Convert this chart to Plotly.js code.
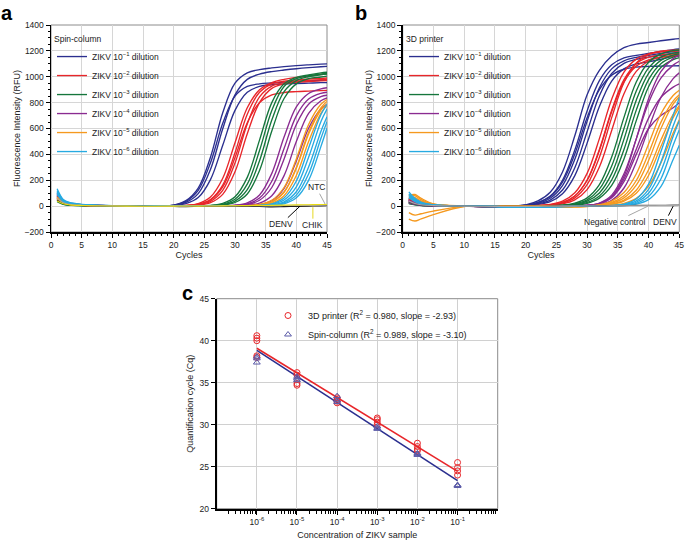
<!DOCTYPE html>
<html><head><meta charset="utf-8">
<script src="https://cdn.plot.ly/plotly-3.0.1.min.js"></script>
<style>html,body{margin:0;padding:0;background:#fff}#chart{width:685px;height:543px}</style>
</head><body><div id="chart"></div>
<script>
// ---------- DATA ----------
const cycles = [1,2,3,5,10,15,20,22,24,26,28,30,32,34,36,38,40,42,44,45];
const dilutionNames = ['ZIKV 10<sup>−1</sup> dilution','ZIKV 10<sup>−2</sup> dilution','ZIKV 10<sup>−3</sup> dilution','ZIKV 10<sup>−4</sup> dilution','ZIKV 10<sup>−5</sup> dilution','ZIKV 10<sup>−6</sup> dilution'];

// Panel a: spin-column (RFU per replicate at the cycles above)
const spinD1 = [
 [95,42,24,12,3,0,8,42,139,378,722,950,1030,1055,1068,1078,1086,1092,1097,1100],
 [80,36,20,10,2,-1,6,29,97,283,598,860,980,1020,1040,1052,1062,1070,1077,1080],
 [70,30,17,9,2,-2,8,37,122,335,640,850,925,945,952,958,963,968,972,975],
 [60,27,15,8,1,0,4,19,66,205,470,740,880,925,938,944,948,951,954,955]];
const spinD2 = [
 [85,38,20,10,3,-1,2,6,20,70,215,490,760,900,955,980,995,1007,1018,1025],
 [75,32,18,9,2,-2,1,4,15,51,163,412,710,880,945,965,975,982,988,990],
 [65,30,16,8,2,-1,1,3,10,37,122,333,635,845,928,955,965,972,978,980],
 [55,25,14,7,1,-2,0,2,8,27,91,265,560,800,910,945,957,963,968,970],
 [50,22,12,6,1,-1,1,4,13,46,148,375,645,800,860,878,885,889,893,895]];
const spinD3 = [
 [50,20,10,5,0,-2,0,1,2,6,21,72,222,510,800,945,995,1015,1030,1035],
 [45,18,10,5,1,-1,0,0,1,4,15,53,170,430,740,925,985,1008,1020,1025],
 [40,16,9,4,0,-2,0,0,1,3,11,39,128,350,665,885,970,1000,1015,1020],
 [35,14,8,4,0,-1,0,0,0,2,8,28,94,275,580,832,945,985,998,1005]];
const spinD4 = [
 [100,42,22,11,3,0,0,0,1,1,2,7,26,86,253,534,767,871,906,915],
 [85,36,19,10,2,-1,0,0,0,1,1,5,18,62,192,445,698,828,872,880],
 [75,32,17,9,2,-2,0,0,0,0,1,3,13,45,144,365,631,788,846,857],
 [65,28,15,8,1,-1,0,0,0,0,1,2,7,24,81,236,499,717,814,836],
 [55,24,13,7,1,0,0,0,0,0,0,1,3,12,43,138,349,602,752,786]];
const spinD5 = [
 [70,30,16,8,2,0,0,0,0,0,0,1,3,13,45,144,365,631,788,824],
 [62,27,15,8,2,-1,0,0,0,0,0,0,3,9,33,110,299,571,760,809],
 [58,25,14,7,1,-1,0,0,0,0,0,0,3,9,32,107,292,558,743,790],
 [52,23,13,7,1,0,0,0,0,0,0,0,2,7,24,81,237,499,717,779]];
const spinD6 = [
 [135,52,28,14,4,0,0,0,0,0,0,0,1,5,18,63,194,450,706,787],
 [120,46,25,12,3,-1,0,0,0,0,0,0,0,4,14,47,149,378,653,751],
 [110,42,23,11,3,-1,0,0,0,0,0,0,0,3,10,33,111,303,577,690],
 [100,40,21,10,2,0,0,0,0,0,0,0,0,2,7,25,85,248,522,653],
 [90,36,19,9,2,0,0,0,0,0,0,0,0,1,5,18,64,199,460,604]];
const spinNTC  = [60,26,14,7,2,-1,0,0,1,1,2,2,3,3,4,5,6,7,8,9];
const spinDENV = [45,20,11,5,1,-2,-3,-4,-3,-2,-3,-2,-2,-3,-6,-4,-2,0,2,3];
const spinCHIK = [40,18,10,5,1,-1,0,1,0,1,2,3,4,5,6,8,10,11,12,12];

// Panel b: 3D printer
const printerD1 = [
 [60,30,15,6,0,-2,10,40,107,264,544,860,1050,1160,1225,1252,1265,1278,1290,1295],
 [50,26,13,5,0,-3,8,29,78,200,434,736,970,1092,1145,1165,1180,1195,1210,1215],
 [45,24,12,5,0,-2,7,27,73,186,403,683,900,1012,1058,1075,1080,1082,1084,1085],
 [40,22,11,4,0,-3,6,22,61,159,362,655,915,1061,1123,1150,1165,1180,1195,1200],
 [55,28,14,6,1,-2,4,17,47,125,297,575,853,1025,1103,1135,1152,1165,1182,1190],
 [35,20,10,4,0,-3,3,13,35,96,236,487,770,967,1061,1099,1115,1135,1160,1170]];
const printerD2 = [
 [65,34,17,7,1,-2,2,5,14,38,103,253,522,826,1036,1136,1177,1192,1197,1200],
 [55,30,15,6,1,-3,1,4,10,29,79,202,438,742,978,1101,1151,1169,1176,1180],
 [50,27,14,6,0,-2,1,3,10,28,78,198,430,730,962,1082,1131,1150,1157,1160],
 [45,25,12,5,0,-3,1,3,8,23,64,166,378,684,955,1107,1171,1197,1205,1210],
 [40,22,11,5,0,-2,1,2,6,17,48,128,302,585,868,1042,1122,1152,1164,1168]];
const printerD3 = [
 [30,18,9,4,0,-3,0,1,3,8,23,64,166,379,686,959,1112,1176,1202,1207],
 [28,16,8,4,0,-2,0,1,2,6,18,49,131,310,600,890,1069,1151,1182,1189],
 [25,14,7,3,0,-3,0,0,2,5,13,38,102,251,518,819,1027,1127,1167,1177],
 [22,12,6,3,0,-2,0,0,1,4,10,29,79,202,438,742,978,1101,1151,1162],
 [20,10,5,2,0,-3,0,0,1,3,8,22,62,160,365,661,923,1071,1133,1148]];
const printerD4 = [
 [45,24,12,5,0,-2,0,0,0,1,2,6,22,75,230,520,830,1040,1140,1165],
 [40,22,11,5,0,-3,0,0,0,0,2,6,24,85,250,520,800,990,1090,1120],
 [35,20,10,4,0,-2,0,0,0,0,1,5,20,70,210,440,680,840,920,945],
 [30,17,9,4,0,-3,0,0,0,0,1,5,18,65,190,400,600,700,760,800],
 [25,14,7,3,0,-2,0,0,0,0,1,3,12,45,140,340,600,840,985,1030]];
const printerD5 = [
 [-50,-70,-59,-38,-2,2,-5,-8,-10,-10,-8,-4,10,39,105,248,480,712,855,896],
 [-100,-115,-99,-66,-3,3,-3,-5,-8,-8,-6,-2,8,28,80,198,409,647,811,860],
 [85,90,60,18,2,0,2,3,3,3,3,4,8,23,64,162,352,598,788,846],
 [75,80,50,15,1,-1,1,2,2,2,2,3,6,17,47,123,281,509,710,777],
 [60,55,35,12,1,0,1,1,1,1,1,2,5,13,38,100,237,460,683,763],
 [70,65,40,14,2,1,2,2,2,2,2,2,3,8,22,60,154,334,566,668]];
const printerD6 = [
 [110,60,30,10,1,-2,-8,-6,-4,-2,0,1,2,5,16,55,170,420,700,840],
 [95,50,25,9,1,-3,-10,-8,-6,-3,-1,0,1,4,12,40,130,340,620,740],
 [85,45,22,8,0,-2,-9,-8,-5,-3,-1,0,1,3,9,30,100,270,540,660],
 [75,40,20,7,0,-3,-10,-8,-6,-3,-1,0,0,2,6,22,75,210,470,590],
 [65,35,17,6,0,-2,-8,-7,-5,-2,-1,0,0,2,5,15,50,150,360,470]];
const printerNeg  = [40,20,10,4,0,-2,-3,-2,-1,0,0,1,1,2,2,3,3,4,4,5];
const printerDENV = [30,16,8,3,0,-2,-2,-1,0,0,1,1,2,3,4,6,7,7,8,8];

// Panel c: Cq vs concentration
const concentrations = [1e-6,1e-5,1e-4,1e-3,1e-2,1e-1];
const concTickText = ['10<sup>-6</sup>','10<sup>-5</sup>','10<sup>-4</sup>','10<sup>-3</sup>','10<sup>-2</sup>','10<sup>-1</sup>'];
const cqPrinter = [[40.6,40.3,40.0,38.2,38.0],[36.2,35.9,34.9,34.7],[33.2,33.0,32.8,32.6],[30.8,30.6,30.3,30.0],[27.8,27.4,27.1,26.9],[25.5,24.9,24.5,24.0]];
const cqSpin    = [[38.1,37.9,37.4],[35.7,35.5,35.3],[33.4,32.9,32.7],[29.8,29.6,29.5],[26.6,26.5,26.4],[22.8,22.8,22.7]];
const fitX = [1e-6, 1e-1];
const fitPrinter = [39.1, 24.45];
const fitSpin = [38.85, 23.35];
const printerLabel = '3D printer (R<sup>2</sup> = 0.980, slope = -2.93)';
const spinLabel = 'Spin-column (R<sup>2</sup> = 0.989, slope = -3.10)';

// ---------- STYLE ----------
const W = 685, H = 543;
const FONT = 'Liberation Sans, Arial, Helvetica, sans-serif';
const dilColors = ['#2b2f8f','#e8262a','#15763c','#8a2b91','#f5991f','#27aae1'];
const px = v => v / W, py = v => 1 - v / H;

const traces = [];
function addCurves(groups, xa, ya, leg) {
  groups.forEach((reps, gi) => {
    reps.forEach((ys, ri) => {
      traces.push({type:'scatter', mode:'lines', x: cycles, y: ys, xaxis: xa, yaxis: ya,
        line:{color: dilColors[gi], width: 1.35, shape:'spline', smoothing: 1},
        name: dilutionNames[gi], showlegend: ri === 0, legend: leg, hoverinfo:'skip'});
    });
  });
}
function addControl(ys, color, xa, ya) {
  traces.push({type:'scatter', mode:'lines', x: cycles, y: ys, xaxis: xa, yaxis: ya,
    line:{color: color, width: 1.1, shape:'spline'}, showlegend:false, hoverinfo:'skip'});
}
addCurves([spinD1,spinD2,spinD3,spinD4,spinD5,spinD6], 'x', 'y', 'legend');
addControl(spinDENV, '#231f20', 'x', 'y');
addControl(spinNTC, '#a6a6a6', 'x', 'y');
addControl(spinCHIK, '#eadc12', 'x', 'y');
addCurves([printerD1,printerD2,printerD3,printerD4,printerD5,printerD6], 'x2', 'y2', 'legend2');
addControl(printerDENV, '#4d4d4d', 'x2', 'y2');
addControl(printerNeg, '#a6a6a6', 'x2', 'y2');

// panel c
traces.push({type:'scatter', mode:'lines', x: fitX, y: fitPrinter, xaxis:'x3', yaxis:'y3', line:{color:'#e8262a', width:1.6}, showlegend:false, hoverinfo:'skip'});
traces.push({type:'scatter', mode:'lines', x: fitX, y: fitSpin, xaxis:'x3', yaxis:'y3', line:{color:'#2b2f8f', width:1.6}, showlegend:false, hoverinfo:'skip'});
const flatX = (sets) => sets.flatMap((s, i) => s.map(() => concentrations[i]));
traces.push({type:'scatter', mode:'markers', x: flatX(cqPrinter), y: cqPrinter.flat(), xaxis:'x3', yaxis:'y3',
  marker:{symbol:'circle-open', size:6, color:'#e8262a', line:{width:1}}, name: printerLabel, legend:'legend3', hoverinfo:'skip'});
traces.push({type:'scatter', mode:'markers', x: flatX(cqSpin), y: cqSpin.flat(), xaxis:'x3', yaxis:'y3',
  marker:{symbol:'triangle-up-open', size:6, color:'#5b5ba8', line:{width:1}}, name: spinLabel, legend:'legend3', hoverinfo:'skip'});

const tickFont = {family: FONT, size: 8.5, color:'#222'};
const titleFont = {family: FONT, size: 9, color:'#222'};
function cycAxis(dom, anchor) {
  return {domain: dom, anchor: anchor, range:[0,45], tick0:0, dtick:5, ticks:'outside', ticklen:4, tickcolor:'#000',
    showline:true, linecolor:'#000', linewidth:1.5, showgrid:true, gridcolor:'#d6d6d6', zeroline:false,
    minor:{dtick:1, ticks:'outside', ticklen:2, tickcolor:'#000', showgrid:false},
    tickfont: tickFont, title:{text:'Cycles', font: titleFont, standoff: 2}, fixedrange:true};
}
function rfuAxis(dom, anchor) {
  return {domain: dom, anchor: anchor, range:[-200,1400], tick0:0, dtick:200, ticks:'outside', ticklen:4, tickcolor:'#000',
    showline:true, linecolor:'#000', linewidth:1.5, showgrid:true, gridcolor:'#d6d6d6', zeroline:false,
    minor:{dtick:50, ticks:'outside', ticklen:2, tickcolor:'#000', showgrid:false},
    tickfont: tickFont, title:{text:'Fluorescence Intensity (RFU)', font: titleFont, standoff: 2}, fixedrange:true};
}
const minorLog = [];
for (let k = -7; k < 0; k++) for (let m = 2; m <= 9; m++) minorLog.push(m * Math.pow(10, k));

const frame = (xr, yr) => ({type:'rect', xref: xr + ' domain', yref: yr + ' domain', x0:0, x1:1, y0:0, y1:1,
  line:{color:'#8c8c8c', width:1}, layer:'below'});

const legendBase = {xanchor:'left', yanchor:'top', bgcolor:'rgba(0,0,0,0)', borderwidth:0, tracegroupgap:0,
  font:{family: FONT, size: 8.5, color:'#222'}, itemclick:false, itemdoubleclick:false};

const annFont = {family: FONT, size: 8.5, color:'#222'};
const panelLabel = (t, x, yTop) => ({text:'<b>' + t + '</b>', xref:'paper', yref:'paper', x: px(x), y: py(yTop),
  xanchor:'center', yanchor:'top', borderpad:0, showarrow:false, font:{family: FONT, size:20, color:'#000'}});
const layout = {
  width: W, height: H, margin:{l:0,r:0,t:0,b:0}, paper_bgcolor:'#fff', plot_bgcolor:'#fff',
  font:{family: FONT, color:'#222'}, hovermode:false,
  xaxis: cycAxis([px(51), px(327)], 'y'),
  yaxis: rfuAxis([py(232), py(25)], 'x'),
  xaxis2: cycAxis([px(402.7), px(679.3)], 'y2'),
  yaxis2: rfuAxis([py(232), py(25)], 'x2'),
  xaxis3: {domain:[px(216.7), px(497.7)], anchor:'y3', type:'log', range:[-7,0], tickmode:'array',
    tickvals: concentrations, ticktext: concTickText, ticks:'outside', ticklen:4, tickcolor:'#000',
    showline:true, linecolor:'#000', linewidth:2, showgrid:true, gridcolor:'#d0d0d0', zeroline:false,
    minor:{tickvals: minorLog, ticks:'outside', ticklen:3, tickcolor:'#000', showgrid:false},
    tickfont: tickFont, title:{text:'Concentration of ZIKV sample', font: titleFont, standoff: 6}, fixedrange:true},
  yaxis3: {domain:[py(508.7), py(298.7)], anchor:'x3', range:[20,45], dtick:5, ticks:'outside', ticklen:4, tickcolor:'#000',
    showline:true, linecolor:'#000', linewidth:2, showgrid:true, gridcolor:'#d0d0d0', zeroline:false,
    tickfont: tickFont, title:{text:'Quantification cycle (Cq)', font: titleFont, standoff: 4}, fixedrange:true},
  legend: Object.assign({}, legendBase, {x: px(52), y: py(31), title:{text:'Spin-column', font:{family: FONT, size: 8.5, color:'#222'}}}),
  legend2: Object.assign({}, legendBase, {x: px(404), y: py(31), title:{text:'3D printer', font:{family: FONT, size: 8.5, color:'#222'}}}),
  legend3: Object.assign({}, legendBase, {x: px(268), y: py(301), font:{family: FONT, size: 9, color:'#222'}}),
  shapes: [frame('x','y'), frame('x2','y2'), frame('x3','y3')],
  annotations: [
    panelLabel('a', 7, 1),
    panelLabel('b', 360.5, 1),
    panelLabel('c', 187.5, 281),
    {text:'NTC', xref:'x', yref:'y', x:44.7, y:15, ax:-9, ay:-17, showarrow:true, arrowhead:0, arrowwidth:1, arrowcolor:'#a6a6a6', font: annFont},
    {text:'DENV', xref:'x', yref:'y', x:40.6, y:0, ax:-19, ay:18, showarrow:true, arrowhead:0, arrowwidth:1, arrowcolor:'#000', font: annFont},
    {text:'CHIK', xref:'x', yref:'y', x:42.7, y:-8, ax:0, ay:18, showarrow:true, arrowhead:0, arrowwidth:1, arrowcolor:'#e6d820', font: annFont},
    {text:'Negative control', xref:'x2', yref:'y2', x:39.9, y:0, ax:-33, ay:16, showarrow:true, arrowhead:0, arrowwidth:1, arrowcolor:'#a6a6a6', font: annFont},
    {text:'DENV', xref:'x2', yref:'y2', x:44.0, y:0, ax:-8, ay:16, showarrow:true, arrowhead:0, arrowwidth:1, arrowcolor:'#000', font: annFont}
  ]
};
Plotly.newPlot('chart', traces, layout, {staticPlot:true, displayModeBar:false});
</script></body></html>
